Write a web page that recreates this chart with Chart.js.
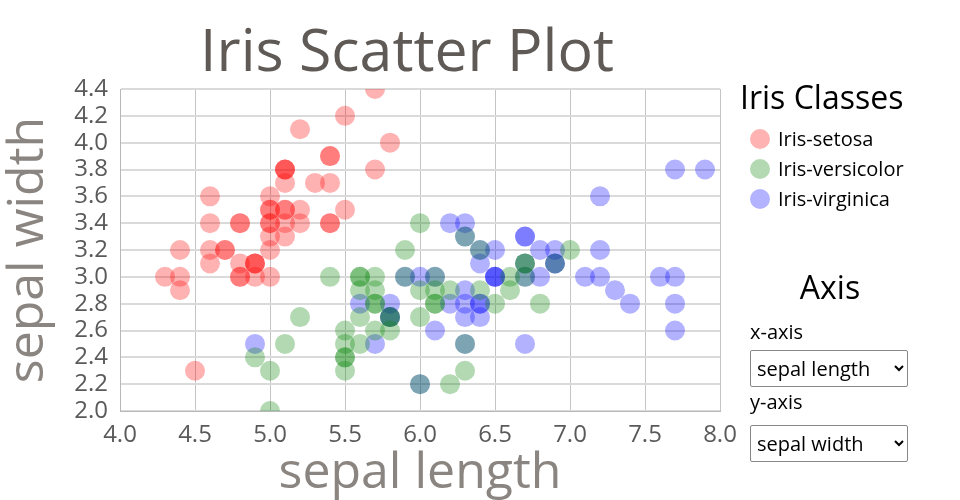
<!DOCTYPE html>
<html>
<head>
<meta charset="utf-8">
<script src="https://cdn.jsdelivr.net/npm/chart.js@4.4.0/dist/chart.umd.min.js"></script>
<style>
  body { margin: 0; background: #fff; font-family: "Open Sans", sans-serif; }
  #wrap { position: relative; width: 960px; height: 500px; }
  #grafico { position: absolute; left: 0; top: 0; }
  #painel { position: absolute; left: 740px; top: 0; width: 220px; height: 500px; color: #000; }
  #legendaTitulo { position: absolute; left: 0; top: 75px; font-size: 32px; }
  .item { position: absolute; left: 10px; font-size: 20px; height: 28px; line-height: 28px; }
  .item span.bola { display: inline-block; width: 20px; height: 20px; border-radius: 50%; vertical-align: -3px; margin-right: 8px; }
  #eixoTitulo { position: absolute; left: 0; width: 180px; text-align: center; top: 265px; font-size: 32px; }
  .rotulo { position: absolute; left: 10px; font-size: 20px; }
  select { position: absolute; left: 10px; width: 158px; height: 37px; font-family: "Open Sans", sans-serif; font-size: 20px; background: #fff; border: 1px solid #888; border-radius: 2px; padding: 0 2px; color: #000; }
</style>
</head>
<body>
<div id="wrap">
  <canvas id="grafico" width="814" height="500"></canvas>
  <div id="painel">
    <div id="legendaTitulo">Iris Classes</div>
    <div id="legendaItens"></div>
    <div id="eixoTitulo">Axis</div>
    <div class="rotulo" style="top:318px">x-axis</div>
    <select style="top:350px"><option>sepal length</option></select>
    <div class="rotulo" style="top:388px">y-axis</div>
    <select style="top:425px"><option>sepal width</option></select>
  </div>
</div>
<script>
var classes = ['Iris-setosa', 'Iris-versicolor', 'Iris-virginica'];
var cores = ['rgba(255, 0, 0, 0.3)', 'rgba(0, 128, 0, 0.3)', 'rgba(0, 0, 255, 0.3)'];

var setosaComprimento = [5.1,4.9,4.7,4.6,5.0,5.4,4.6,5.0,4.4,4.9,5.4,4.8,4.8,4.3,5.8,5.7,5.4,5.1,5.7,5.1,5.4,5.1,4.6,5.1,4.8,5.0,5.0,5.2,5.2,4.7,4.8,5.4,5.2,5.5,4.9,5.0,5.5,4.9,4.4,5.1,5.0,4.5,4.4,5.0,5.1,4.8,5.1,4.6,5.3,5.0];
var setosaLargura = [3.5,3.0,3.2,3.1,3.6,3.9,3.4,3.4,2.9,3.1,3.7,3.4,3.0,3.0,4.0,4.4,3.9,3.5,3.8,3.8,3.4,3.7,3.6,3.3,3.4,3.0,3.4,3.5,3.4,3.2,3.1,3.4,4.1,4.2,3.1,3.2,3.5,3.1,3.0,3.4,3.5,2.3,3.2,3.5,3.8,3.0,3.8,3.2,3.7,3.3];

var versicolorComprimento = [7.0,6.4,6.9,5.5,6.5,5.7,6.3,4.9,6.6,5.2,5.0,5.9,6.0,6.1,5.6,6.7,5.6,5.8,6.2,5.6,5.9,6.1,6.3,6.1,6.4,6.6,6.8,6.7,6.0,5.7,5.5,5.5,5.8,6.0,5.4,6.0,6.7,6.3,5.6,5.5,5.5,6.1,5.8,5.0,5.6,5.7,5.7,6.2,5.1,5.7];
var versicolorLargura = [3.2,3.2,3.1,2.3,2.8,2.8,3.3,2.4,2.9,2.7,2.0,3.0,2.2,2.9,2.9,3.1,3.0,2.7,2.2,2.5,3.2,2.8,2.5,2.8,2.9,3.0,2.8,3.0,2.9,2.6,2.4,2.4,2.7,2.7,3.0,3.4,3.1,2.3,3.0,2.5,2.6,3.0,2.6,2.3,2.7,3.0,2.9,2.9,2.5,2.8];

var virginicaComprimento = [6.3,5.8,7.1,6.3,6.5,7.6,4.9,7.3,6.7,7.2,6.5,6.4,6.8,5.7,5.8,6.4,6.5,7.7,7.7,6.0,6.9,5.6,7.7,6.3,6.7,7.2,6.2,6.1,6.4,7.2,7.4,7.9,6.4,6.3,6.1,7.7,6.3,6.4,6.0,6.9,6.7,6.9,5.8,6.8,6.7,6.7,6.3,6.5,6.2,5.9];
var virginicaLargura = [3.3,2.7,3.0,2.9,3.0,3.0,2.5,2.9,2.5,3.6,3.2,2.7,3.0,2.5,2.8,3.2,3.0,3.8,2.6,2.2,3.2,2.8,2.8,2.7,3.3,3.2,2.8,3.0,2.8,3.0,2.8,3.8,2.8,2.8,2.6,3.0,3.4,3.1,3.0,3.1,3.1,3.1,2.7,3.2,3.3,3.0,2.5,3.0,3.4,3.0];

var eixoXMin = 4.0, eixoXMax = 8.0, eixoXPasso = 0.5;
var eixoYMin = 2.0, eixoYMax = 4.4, eixoYPasso = 0.2;

function montarPontos(xs, ys){
    var pontos = [];
    for(var i = 0; i < xs.length; i++){
        pontos.push({x: xs[i], y: ys[i]});
    }
    return pontos;
}

var series = [
    montarPontos(setosaComprimento, setosaLargura),
    montarPontos(versicolorComprimento, versicolorLargura),
    montarPontos(virginicaComprimento, virginicaLargura)
];

// legenda em html, ao lado do grafico
var legenda = document.getElementById('legendaItens');
for(var i = 0; i < classes.length; i++){
    var item = document.createElement('div');
    item.className = 'item';
    item.style.top = (125 + i * 30) + 'px';
    item.innerHTML = '<span class="bola" style="background:' + cores[i] + '"></span>' + classes[i];
    legenda.appendChild(item);
}

var datasets = [];
for(var i = 0; i < classes.length; i++){
    datasets.push({
        label: classes[i],
        data: series[i],
        backgroundColor: cores[i],
        borderWidth: 0,
        pointRadius: 10,
        pointHoverRadius: 10
    });
}

var fonte = '"Open Sans", sans-serif';

new Chart(document.getElementById('grafico'), {
    type: 'scatter',
    data: { datasets: datasets },
    options: {
        responsive: false,
        animation: false,
        layout: { padding: 0 },
        plugins: {
            legend: { display: false },
            tooltip: { enabled: false },
            title: {
                display: true,
                text: 'Iris Scatter Plot',
                color: '#5f5a56',
                font: { family: fonte, size: 59, weight: 'normal', lineHeight: 1.0 },
                padding: { top: 25, bottom: 5 }
            }
        },
        scales: {
            x: {
                type: 'linear',
                min: eixoXMin,
                max: eixoXMax,
                afterFit: function(escala){ escala.height = 89; },
                ticks: {
                    stepSize: eixoXPasso,
                    color: '#5a5a5a',
                    font: { family: fonte, size: 24 },
                    padding: 10,
                    maxRotation: 0,
                    autoSkip: false,
                    callback: function(v){ return v.toFixed(1); }
                },
                grid: { color: '#c4c4c4', lineWidth: 1, drawTicks: false },
                border: { color: '#b8b8b8' },
                title: {
                    display: true,
                    text: 'sepal length',
                    color: '#8a8580',
                    font: { family: fonte, size: 50, weight: 'normal', lineHeight: 1.0 },
                    padding: { top: 0, bottom: 1 }
                }
            },
            y: {
                type: 'linear',
                min: eixoYMin,
                max: eixoYMax,
                afterFit: function(escala){ escala.width = 120; },
                ticks: {
                    stepSize: eixoYPasso,
                    color: '#5a5a5a',
                    font: { family: fonte, size: 24 },
                    padding: 12,
                    autoSkip: false,
                    callback: function(v){ return v.toFixed(1); }
                },
                grid: { color: '#dadada', lineWidth: 2, drawTicks: false },
                border: { color: '#b8b8b8' },
                title: {
                    display: true,
                    text: 'sepal width',
                    color: '#8a8580',
                    font: { family: fonte, size: 50, weight: 'normal', lineHeight: 1.0 },
                    padding: { top: 4, bottom: 0 }
                }
            },
            // eixo vazio so para reservar o espaco da direita
            reserva: {
                type: 'linear',
                position: 'right',
                display: true,
                afterFit: function(escala){ escala.width = 94; },
                ticks: { display: false },
                grid: { display: false },
                border: { display: false }
            }
        }
    }
});
</script>
</body>
</html>
